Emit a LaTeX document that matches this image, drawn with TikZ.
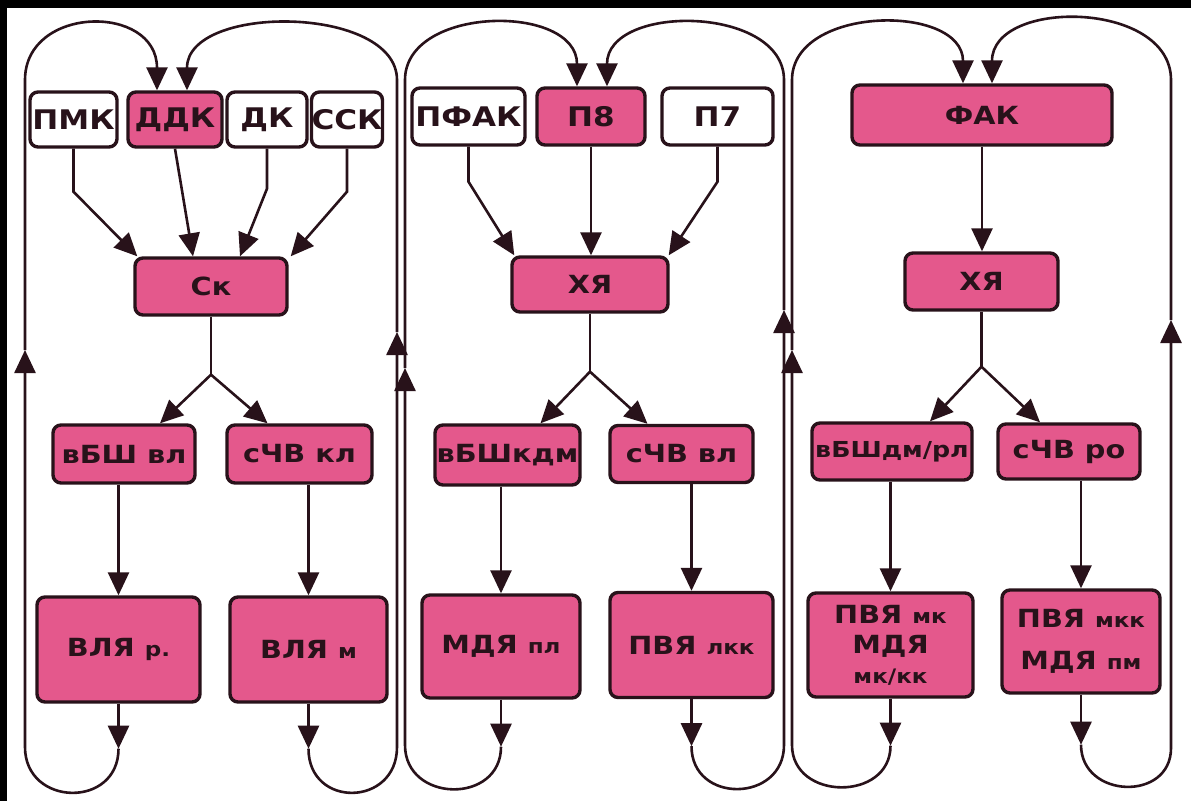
\documentclass[tikz,border=0pt]{standalone}
\usepackage{fontspec}
\newfontfamily\labfont{DejaVu Sans}[FakeStretch=1.15]
\usetikzlibrary{arrows.meta,calc}
\definecolor{pinkbox}{RGB}{228,88,140}
\definecolor{ink}{RGB}{40,18,26}
\newcommand\lsm[1]{{\fontsize{20}{22}\selectfont #1}}
\tikzset{
  box/.style={draw=ink, line width=3.4pt, rounded corners=8pt, inner sep=0pt, text=ink,
    font=\labfont\bfseries\fontsize{25}{30}\selectfont, align=center},
  pbox/.style={box, fill=pinkbox},
  wbox/.style={box, fill=white},
  toprow/.style={font=\labfont\bfseries\fontsize{27}{30}\selectfont},
  conn/.style={draw=ink, line width=2.6pt},
  arr/.style={conn, -{Triangle[length=23pt,width=21pt]}},
}
\begin{document}
\begin{tikzpicture}[x=1pt,y=-1pt]
\useasboundingbox (0,0) rectangle (1191,801);
\fill[white] (0,0) rectangle (1191,801);
\fill[black] (0,0) rectangle (1191,8);
\fill[black] (0,0) rectangle (7,801);

% ---------- panel 1 ----------
\node[wbox,toprow,minimum width=87pt,minimum height=55pt] (pmk) at (73.5,119.5) {ПМК};
\node[pbox,toprow,minimum width=94pt,minimum height=55pt] (ddk) at (175,119.5) {ДДК};
\node[wbox,toprow,minimum width=80pt,minimum height=55pt] (dk) at (267,119.5) {ДК};
\node[wbox,toprow,minimum width=70pt,minimum height=55pt] (ssk) at (347,119.5) {ССК};
\node[pbox,minimum width=152pt,minimum height=57pt] (sk) at (211,286.5) {Ск};
\node[pbox,minimum width=142pt,minimum height=58pt] (vbsh1) at (124,454) {вБШ вл};
\node[pbox,minimum width=145pt,minimum height=58pt] (schv1) at (299.5,454) {сЧВ кл};
\node[pbox,minimum width=163pt,minimum height=105pt] (vlyar) at (118.5,649.5) {ВЛЯ \lsm{р.}};
\node[pbox,minimum width=157pt,minimum height=105pt] (vlym) at (308.5,649.5) {ВЛЯ \lsm{м}};

% ---------- panel 2 ----------
\node[wbox,toprow,minimum width=113pt,minimum height=57pt] (pfak) at (468.5,116.5) {ПФАК};
\node[pbox,toprow,minimum width=108pt,minimum height=57pt] (p8) at (591,116.5) {П8};
\node[wbox,toprow,minimum width=111pt,minimum height=57pt] (p7) at (717.5,116.5) {П7};
\node[pbox,minimum width=156pt,minimum height=55pt] (xya2) at (590,284.5) {ХЯ};
\node[pbox,minimum width=145pt,minimum height=60pt] (vbsh2) at (507.5,455) {вБШкдм};
\node[pbox,minimum width=143pt,minimum height=57pt] (schv2) at (681.5,454) {сЧВ вл};
\node[pbox,minimum width=158pt,minimum height=103pt] (mdya2) at (501,646.5) {МДЯ \lsm{пл}};
\node[pbox,minimum width=163pt,minimum height=105pt] (pvya2) at (691.5,645) {ПВЯ \lsm{лкк}};

% ---------- panel 3 ----------
\node[pbox,minimum width=260pt,minimum height=60pt] (fak) at (982,115) {ФАК};
\node[pbox,minimum width=153pt,minimum height=57pt] (xya3) at (981.5,281.5) {ХЯ};
\node[pbox,minimum width=160pt,minimum height=57pt,font=\labfont\bfseries\fontsize{22}{26}\selectfont] (vbsh3) at (892,451.5) {вБШдм/рл};
\node[pbox,minimum width=142pt,minimum height=55pt] (schv3) at (1069,451.5) {сЧВ ро};
\node[pbox,minimum width=165pt,minimum height=104pt] (pvya3a) at (890.5,645) {ПВЯ \lsm{мк}\\МДЯ\\\lsm{мк/кк}};
\node[pbox,minimum width=158pt,minimum height=103pt] (pvya3b) at (1081,641.5) {ПВЯ \lsm{мкк}\\[12pt]МДЯ \lsm{пм}};

% ---------- inputs ----------
\draw[arr] (pmk.south) -- ++(0,43) -- ($(sk.north west)+(4,0)$);
\draw[arr] (ddk.south) -- ($(sk.north)+(-18,0)$);
\draw[arr] (dk.south) -- ++(0,40) -- ($(sk.north)+(29,0)$);
\draw[arr] (ssk.south) -- ++(0,43) -- ($(sk.north east)+(2,0)$);

\draw[arr] (pfak.south) -- ++(0,35) -- ($(xya2.north west)+(4,0)$);
\draw[arr] (p8.south) -- (p8.south |- xya2.north);
\draw[arr] (p7.south) -- ++(0,35) -- ($(xya2.north east)+(-1,0)$);

\draw[arr] (fak.south) -- (fak.south |- xya3.north);

% ---------- forks ----------
\coordinate (f1) at ($(sk.south)+(0,58)$);
\draw[conn] (sk.south) -- (f1);
\draw[arr] (f1) -- ($(vbsh1.north)+(36,0)$);
\draw[arr] (f1) -- ($(schv1.north)+(-32,0)$);

\coordinate (f2) at ($(xya2.south)+(0,58)$);
\draw[conn] (xya2.south) -- (f2);
\draw[arr] (f2) -- ($(vbsh2.north)+(33,0)$);
\draw[arr] (f2) -- ($(schv2.north)+(-34,0)$);

\coordinate (f3) at ($(xya3.south)+(0,55)$);
\draw[conn] (xya3.south) -- (f3);
\draw[arr] (f3) -- ($(vbsh3.north)+(38,0)$);
\draw[arr] (f3) -- ($(schv3.north)+(-29,0)$);

% ---------- down arrows ----------
\draw[arr] (vlyar.north |- vbsh1.south) -- (vlyar.north);
\draw[arr] (vlym.north |- schv1.south) -- (vlym.north);
\draw[arr] (mdya2.north |- vbsh2.south) -- (mdya2.north);
\draw[arr] (pvya2.north |- schv2.south) -- (pvya2.north);
\draw[arr] (pvya3a.north |- vbsh3.south) -- (pvya3a.north);
\draw[arr] (pvya3b.north |- schv3.south) -- (pvya3b.north);

% ---------- bottom outputs ----------
\coordinate (b1l) at ($(vlyar.south)+(0,45)$);
\coordinate (b1r) at ($(vlym.south)+(0,45)$);
\coordinate (b2l) at ($(mdya2.south)+(0,47)$);
\coordinate (b2r) at ($(pvya2.south)+(0,47)$);
\coordinate (b3l) at ($(pvya3a.south)+(0,47)$);
\coordinate (b3r) at ($(pvya3b.south)+(0,50)$);
\foreach \n/\b in {vlyar/b1l, vlym/b1r, mdya2/b2l, pvya2/b2r, pvya3a/b3l, pvya3b/b3r}
  \draw[arr] (\n.south) -- (\b);

% ---------- feedback loops ----------
\coordinate (L1) at (25,747);   \coordinate (L1m) at (25,350);   \coordinate (L1t) at (25,80);
\coordinate (R1) at (397,747);  \coordinate (R1m) at (397,332);  \coordinate (R1t) at (397,80);
\coordinate (L2) at (405,745);  \coordinate (L2m) at (405,368);  \coordinate (L2t) at (405,80);
\coordinate (R2) at (784,745);  \coordinate (R2m) at (784,310);  \coordinate (R2t) at (784,80);
\coordinate (L3) at (792,745);  \coordinate (L3m) at (792,350);  \coordinate (L3t) at (792,80);
\coordinate (R3) at (1171,748); \coordinate (R3m) at (1171,320); \coordinate (R3t) at (1171,80);

\draw[arr] (b1l) .. controls +(0,60) and +(0,60) .. (L1) -- (L1m);
\draw[arr] (L1m) -- (L1t) .. controls +(0,-75) and +(0,-87) .. ($(ddk.north)+(-18,0)$);
\draw[arr] (b1r) .. controls +(0,60) and +(0,60) .. (R1) -- (R1m);
\draw[arr] (R1m) -- (R1t) .. controls +(0,-75) and +(0,-87) .. ($(ddk.north)+(12,0)$);

\draw[arr] (b2l) .. controls +(0,58) and +(0,58) .. (L2) -- (L2m);
\draw[arr] (L2m) -- (L2t) .. controls +(0,-75) and +(0,-83) .. ($(p8.north)+(-14,0)$);
\draw[arr] (b2r) .. controls +(0,58) and +(0,58) .. (R2) -- (R2m);
\draw[arr] (R2m) -- (R2t) .. controls +(0,-75) and +(0,-83) .. ($(p8.north)+(16,0)$);

\draw[arr] (b3l) .. controls +(0,56) and +(0,56) .. (L3) -- (L3m);
\draw[arr] (L3m) -- (L3t) .. controls +(0,-75) and +(0,-80) .. ($(fak.north)+(-19,0)$);
\draw[arr] (b3r) .. controls +(0,54) and +(0,54) .. (R3) -- (R3m);
\draw[arr] (R3m) -- (R3t) .. controls +(0,-80) and +(0,-85) .. ($(fak.north)+(10,0)$);
\end{tikzpicture}
\end{document}
